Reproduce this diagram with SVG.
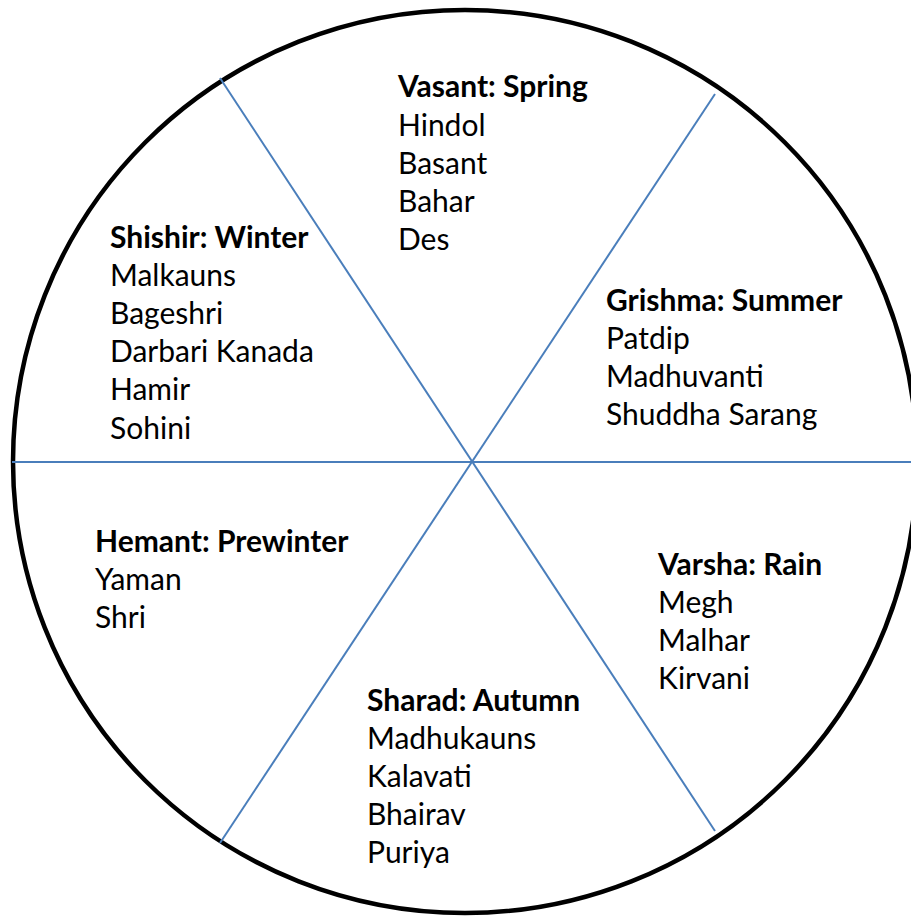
<svg xmlns="http://www.w3.org/2000/svg" width="911" height="916" viewBox="0 0 911 916">
<style>
.t{font-family:Lato,"Open Sans","Liberation Sans",sans-serif;font-size:30px;fill:#000}
.h{font-weight:bold}
.ln{stroke:#4A7EBB;stroke-width:2;fill:none}
</style>
<rect width="911" height="916" fill="#fff"/>
<ellipse id="wheel" cx="465" cy="461.5" rx="452" ry="451.5" fill="#fff" stroke="#000" stroke-width="4.5"/>
<g id="connectors">
<line class="ln" x1="12" y1="462" x2="911" y2="462"/>
<line class="ln" x1="220" y1="78" x2="715" y2="831"/>
<line class="ln" x1="715" y1="94" x2="220" y2="843"/>
</g>
<g id="vasant" class="t">
<text x="398" y="97" class="h">Vasant: Spring</text>
<text x="398" y="136">Hindol</text>
<text x="398" y="174">Basant</text>
<text x="398" y="212">Bahar</text>
<text x="398" y="250">Des</text>
</g>
<g id="shishir" class="t">
<text x="110" y="248" class="h">Shishir: Winter</text>
<text x="110" y="286">Malkauns</text>
<text x="110" y="324">Bageshri</text>
<text x="110" y="362">Darbari Kanada</text>
<text x="110" y="400">Hamir</text>
<text x="110" y="439">Sohini</text>
</g>
<g id="grishma" class="t">
<text x="606" y="311" class="h">Grishma: Summer</text>
<text x="606" y="349">Patdip</text>
<text x="606" y="387">Madhuvanti</text>
<text x="606" y="425">Shuddha Sarang</text>
</g>
<g id="hemant" class="t">
<text x="95" y="552" class="h">Hemant: Prewinter</text>
<text x="95" y="590">Yaman</text>
<text x="95" y="628">Shri</text>
</g>
<g id="varsha" class="t">
<text x="658" y="575" class="h">Varsha: Rain</text>
<text x="658" y="613">Megh</text>
<text x="658" y="651">Malhar</text>
<text x="658" y="689">Kirvani</text>
</g>
<g id="sharad" class="t">
<text x="367" y="711" class="h">Sharad: Autumn</text>
<text x="367" y="749">Madhukauns</text>
<text x="367" y="787">Kalavati</text>
<text x="367" y="825">Bhairav</text>
<text x="367" y="863">Puriya</text>
</g>
</svg>
